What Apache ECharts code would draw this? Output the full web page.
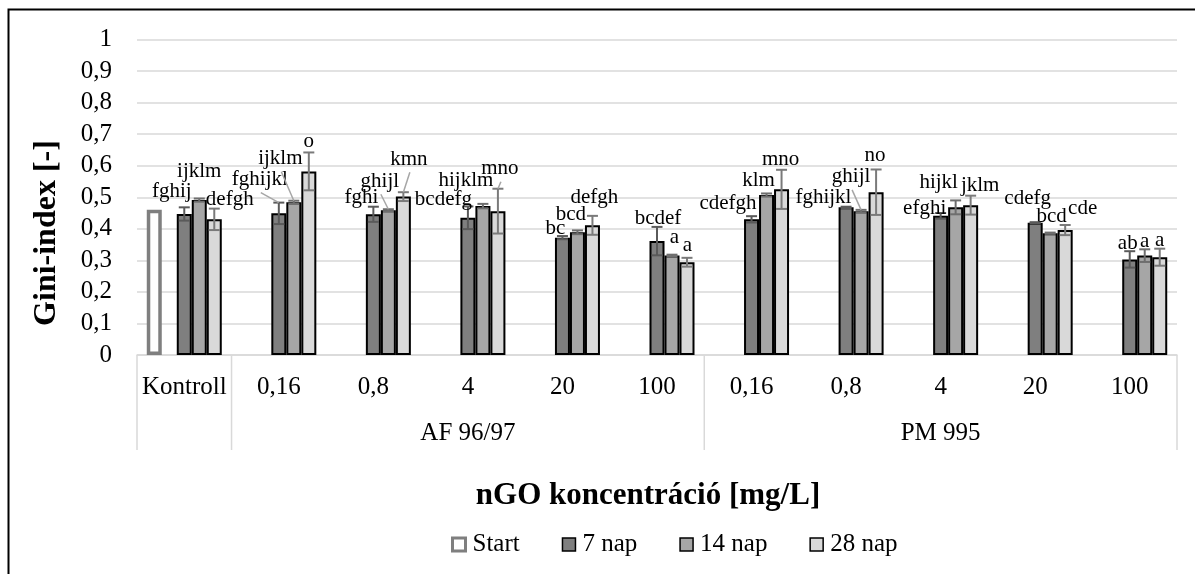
<!DOCTYPE html>
<html><head><meta charset="utf-8">
<script src="https://cdn.jsdelivr.net/npm/echarts@6/dist/echarts.min.js"></script>
<style>html,body{margin:0;padding:0;background:#fff}#c{width:1195px;height:574px}</style>
</head><body><div id="c"></div>
<script>
// ---------- data ----------
const categories = ['Kontroll', '0,16', '0,8', '4', '20', '100', '0,16', '0,8', '4', '20', '100'];
const groupLabels = ['AF 96/97', 'PM 995'];
const groupStart = [1, 6];   // first category index of each group
const groupEnd = [6, 11];    // one past last category index
const yTickLabels = ['0', '0,1', '0,2', '0,3', '0,4', '0,5', '0,6', '0,7', '0,8', '0,9', '1'];
const seriesNames = ['Start', '7 nap', '14 nap', '28 nap'];

const startVals = [0.46, null, null, null, null, null, null, null, null, null, null];
const spacerVals = [null, null, null, null, null, null, null, null, null, null, null];

const nap7 = [0.447, 0.449, 0.446, 0.435, 0.372, 0.361, 0.430, 0.468, 0.441, 0.419, 0.303];
const nap7Err = [0.021, 0.034, 0.024, 0.036, 0.005, 0.045, 0.010, 0.002, 0.009, 0.002, 0.026];
const nap14 = [0.491, 0.484, 0.459, 0.472, 0.389, 0.315, 0.507, 0.456, 0.468, 0.386, 0.315];
const nap14Err = [0.005, 0.005, 0.003, 0.007, 0.006, 0.003, 0.005, 0.004, 0.022, 0.002, 0.020];
const nap28 = [0.430, 0.582, 0.502, 0.456, 0.411, 0.294, 0.525, 0.516, 0.475, 0.396, 0.310];
const nap28Err = [0.034, 0.060, 0.014, 0.071, 0.030, 0.014, 0.062, 0.072, 0.030, 0.016, 0.027];

const letters7 = ['fghij', 'fghijkl', 'fghi', 'bcdefg', 'bc', 'bcdef', 'cdefgh', 'fghijkl', 'efghi', 'cdefg', 'ab'];
const letters14 = ['ijklm', 'ijklm', 'ghijl', 'hijklm', 'bcd', 'a', 'klm', 'ghijl', 'hijkl', 'bcd', 'a'];
const letters28 = ['defgh', 'o', 'kmn', 'mno', 'defgh', 'a', 'mno', 'no', 'jklm', 'cde', 'a'];

// ---------- layout (label nudges in px: dx, dy, leader line flag) ----------
const nudge7 = [[-12.5,-3],[-19,-10,1],[-12,4],[-24.5,6],[-7,5],[1,5],[-23.5,0],[-22.7,3.4],[-16,8],[-7.5,-11],[-2,5]];
const nudge14 = [[0,-14],[-13.5,-29,1],[-8.5,-15,1],[-17,-10],[-6.5,-3],[2.5,-4],[-8,0],[-10,-20,1],[-17,-4.6],[1.5,-3.6],[0,4.7]];
const nudge28 = [[15.5,4],[0,2],[5.5,-20,1],[2,-7,1],[2,-5],[0.5,1],[-1,3],[-1,-1],[9.5,3.3],[17.5,-3.7],[0,4.7]];

const FONT = '"Liberation Serif", "Times New Roman", serif';
const BAR_W = 15;
const GRID_C = '#d9d9d9';

function errSeries(name, vals, errs, letters, nudges, slot, errColor) {
  return {
    type: 'custom', name: name, z: 10, silent: true,
    data: vals.map((v, i) => [i, v, errs[i]]),
    encode: { x: 0, y: 1 },
    renderItem: function (params, api) {
      const i = api.value(0), v = api.value(1), e = api.value(2);
      const base = api.coord([i, v]);
      const x = base[0] + (slot - 2) * BAR_W;
      const yTop = api.coord([i, v + e])[1];
      const yBot = api.coord([i, v - e])[1];
      const nd = nudges[params.dataIndex];
      const lx = x + nd[0], ly = yTop - 13 + nd[1];
      const ls = { stroke: errColor, lineWidth: 2 };
      const children = [
        { type: 'line', shape: { x1: x, y1: yTop, x2: x, y2: yBot }, style: ls },
        { type: 'line', shape: { x1: x - 5.5, y1: yTop, x2: x + 5.5, y2: yTop }, style: ls },
        { type: 'line', shape: { x1: x - 5.5, y1: yBot, x2: x + 5.5, y2: yBot }, style: ls }
      ];
      if (nd[2]) {
        children.push({ type: 'line', shape: { x1: lx + 1, y1: ly + 13, x2: x, y2: yTop }, style: { stroke: '#a6a6a6', lineWidth: 1.5 } });
      }
      children.push({
        type: 'text', x: lx, y: ly,
        style: { text: letters[params.dataIndex], fill: '#000', font: '21px ' + FONT, align: 'center', verticalAlign: 'middle' }
      });
      return { type: 'group', children: children };
    }
  };
}

const option = {
  animation: false,
  textStyle: { fontFamily: FONT, color: '#000' },
  grid: { left: 137, right: 18, top: 39.5, bottom: 219 },
  legend: {
    left: 451, top: 532, padding: 0, itemWidth: 13, itemHeight: 13, itemGap: 42, icon: 'rect',
    textStyle: { fontSize: 25, fontFamily: FONT, color: '#000', padding: [0, 0, 0, 2] },
    data: [
      { name: seriesNames[0], itemStyle: { color: '#fff', borderColor: '#7f7f7f', borderWidth: 3 } },
      { name: seriesNames[1], itemStyle: { color: '#7f7f7f', borderColor: '#000', borderWidth: 1.5 } },
      { name: seriesNames[2], itemStyle: { color: '#a6a6a6', borderColor: '#000', borderWidth: 1.5 } },
      { name: seriesNames[3], itemStyle: { color: '#d9d9d9', borderColor: '#000', borderWidth: 1.5 } }
    ]
  },
  xAxis: {
    type: 'category', data: categories, boundaryGap: true,
    axisLine: { lineStyle: { color: GRID_C, width: 1.5 } },
    axisTick: { show: false },
    axisLabel: { interval: 0, fontSize: 25, fontFamily: FONT, color: '#000', margin: 20 }
  },
  yAxis: {
    type: 'value', min: 0, max: 1, interval: 0.1,
    axisLine: { show: false }, axisTick: { show: false },
    axisLabel: { fontSize: 25, fontFamily: FONT, color: '#000', margin: 25,
      formatter: v => yTickLabels[Math.round(v * 10)] },
    splitLine: { lineStyle: { color: GRID_C, width: 1.5 } }
  },
  series: [
    { type: 'bar', name: seriesNames[0], data: startVals, barWidth: BAR_W, barGap: '0%',
      itemStyle: { color: '#fff', borderColor: '#7f7f7f', borderWidth: 3.5 } },
    { type: 'bar', name: 'spacer', data: spacerVals, barWidth: BAR_W, barGap: '0%' },
    { type: 'bar', name: seriesNames[1], data: nap7, barWidth: BAR_W, barGap: '0%',
      itemStyle: { color: '#7f7f7f', borderColor: '#000', borderWidth: 2 } },
    { type: 'bar', name: seriesNames[2], data: nap14, barWidth: BAR_W, barGap: '0%',
      itemStyle: { color: '#a6a6a6', borderColor: '#000', borderWidth: 2 } },
    { type: 'bar', name: seriesNames[3], data: nap28, barWidth: BAR_W, barGap: '0%',
      itemStyle: { color: '#d9d9d9', borderColor: '#000', borderWidth: 2 } },
    errSeries('e7', nap7, nap7Err, letters7, nudge7, 2, '#5a5a5a'),
    errSeries('e14', nap14, nap14Err, letters14, nudge14, 3, '#6e6e6e'),
    errSeries('e28', nap28, nap28Err, letters28, nudge28, 4, '#7a7a7a')
  ]
};

const chart = echarts.init(document.getElementById('c'));
chart.setOption(option);

// multi-level category axis decorations, computed from the axis scale
const p0 = chart.convertToPixel({ xAxisIndex: 0 }, 0);
const p1 = chart.convertToPixel({ xAxisIndex: 0 }, 1);
const cw = p1 - p0;
const edge = k => p0 - cw / 2 + k * cw;
const yBase = chart.convertToPixel({ yAxisIndex: 0 }, 0);
const boundaries = [0].concat(groupStart, [groupEnd[groupEnd.length - 1]]);
const graphics = [];
boundaries.forEach(k => {
  graphics.push({ type: 'line', silent: true, shape: { x1: edge(k), y1: yBase, x2: edge(k), y2: yBase + 95 },
    style: { stroke: GRID_C, lineWidth: 1.5 } });
});
groupLabels.forEach((g, j) => {
  graphics.push({ type: 'text', silent: true, x: (edge(groupStart[j]) + edge(groupEnd[j])) / 2, y: yBase + 78,
    style: { text: g, fill: '#000', font: '25px ' + FONT, align: 'center', verticalAlign: 'middle' } });
});
graphics.push({ type: 'text', silent: true, x: 648, y: 496,
  style: { text: 'nGO koncentráció [mg/L]', fill: '#000', font: 'bold 31px ' + FONT, align: 'center', verticalAlign: 'middle' } });
graphics.push({ type: 'text', silent: true, x: 47, y: 233, rotation: Math.PI / 2,
  style: { text: 'Gini-index [-]', fill: '#000', font: 'bold 32px ' + FONT, align: 'center', verticalAlign: 'middle' } });
graphics.push({ type: 'rect', silent: true, shape: { x: 8.5, y: 9.5, width: 1400, height: 800 },
  style: { fill: 'none', stroke: '#000', lineWidth: 2 } });
chart.setOption({ graphic: graphics });
</script>
</body></html>
